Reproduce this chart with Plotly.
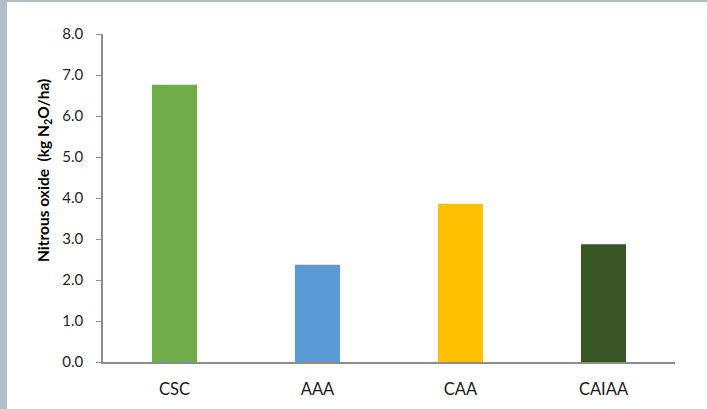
import plotly.graph_objects as go

categories = ["CSC", "AAA", "CAA", "CAIAA"]
values = [6.76, 2.37, 3.86, 2.87]
colors = ["#70AD47", "#5B9BD5", "#FFC000", "#375623"]
y_ticks = [0, 1, 2, 3, 4, 5, 6, 7, 8]
y_ticklabels = [f"{v:.1f}" for v in y_ticks]
y_title = "<b>Nitrous oxide  (kg N<sub>2</sub>O/ha)</b>"

W, H = 707, 409
L, R, T, B = 103, 32, 34, 47
pw, ph = W - L - R, H - T - B

fig = go.Figure(go.Bar(x=categories, y=values, marker=dict(color=colors, line=dict(width=0)), width=0.315))

def px_x(p):
    return (p - L) / pw

def px_y(p):
    return (H - B - p) / ph

shapes = [
    dict(type="rect", xref="paper", yref="paper", x0=px_x(0), x1=px_x(7), y0=px_y(H), y1=px_y(0),
         fillcolor="#b2bec6", line=dict(width=0), layer="below"),
    dict(type="rect", xref="paper", yref="paper", x0=px_x(0), x1=px_x(W), y0=px_y(2), y1=px_y(0),
         fillcolor="#b2bec6", line=dict(width=0), layer="below"),
]

fig.add_annotation(text=y_title, textangle=-90, xref="paper", yref="paper",
                   x=px_x(44), y=px_y(171), xanchor="center", yanchor="middle",
                   showarrow=False, font=dict(size=15.5, color="#000"))

fig.update_layout(
    width=W, height=H,
    margin=dict(l=L, r=R, t=T, b=B, pad=0, autoexpand=False),
    paper_bgcolor="white", plot_bgcolor="white",
    font=dict(family="Lato, Open Sans, sans-serif", color="#262626"),
    showlegend=False,
    shapes=shapes,
    xaxis=dict(showline=True, linecolor="#8c8c8c", linewidth=1.5, ticks="", showgrid=False,
               automargin=False,
               tickfont=dict(size=16.5, color="#1a1a1a"), ticklabelstandoff=11),
    yaxis=dict(range=[0, 8], tickvals=y_ticks, ticktext=y_ticklabels, showline=True,
               linecolor="#8c8c8c", linewidth=1.5, ticks="outside", ticklen=5, tickcolor="#8c8c8c",
               showgrid=False, zeroline=False, automargin=False,
               tickfont=dict(size=15, color="#262626"),
               ticklabelstandoff=10),
)

fig.write_html("out.html")
